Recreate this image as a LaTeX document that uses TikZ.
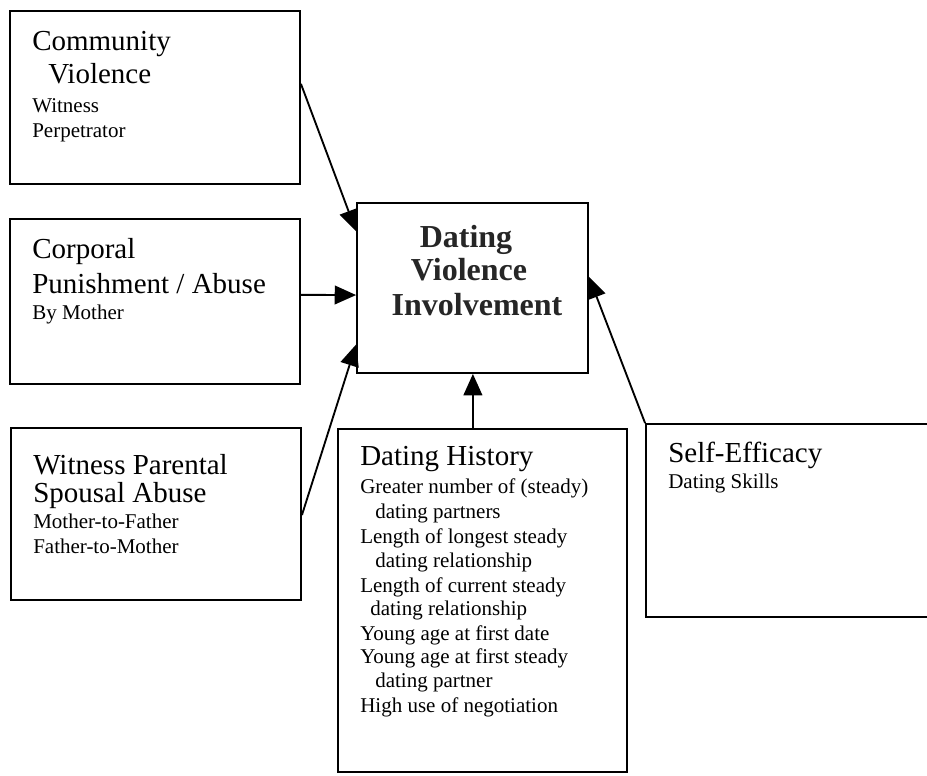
\documentclass[tikz,border=0pt]{standalone}
\usepackage{fontspec}
\setmainfont{Liberation Serif}
\usetikzlibrary{arrows.meta,calc,fit}
\begin{document}
\begin{tikzpicture}[x=0.75pt,y=-0.75pt,
  box/.style={draw, line width=1.4pt, inner sep=0pt},
  head/.style={font=\fontsize{21.75}{25}\selectfont, anchor=base west, inner sep=0pt},
  item/.style={font=\fontsize{15.75}{18}\selectfont, anchor=base west, inner sep=0pt},
  core/.style={font=\bfseries\fontsize{24}{28}\selectfont, anchor=base, inner sep=0pt, text=black!85},
  link/.style={line width=1.4pt, -{Triangle[length=16pt,width=14pt]}}]
\useasboundingbox (0,0) rectangle (927,775);
\fill[white] (0,0) rectangle (927,775);
\clip (0,0) rectangle (927,775);

% boxes
\node[box, fit={(10,11)(300,184)}]   (comm) {};
\node[box, fit={(10,219)(300,384)}]  (corp) {};
\node[box, fit={(11,428)(301,600)}]  (witn) {};
\node[box, fit={(357,203)(588,373)}] (dvi)  {};
\node[box, fit={(338,429)(627,772)}] (hist) {};
\node[box, fit={(646,424)(940,617)}] (self) {};

% community violence
\node[head] (comm1) at (32,50)  {Community};
\node[head] (comm2) at (48,83)  {Violence};
\node[item] (comm3) at (32,112) {Witness};
\node[item] (comm4) at (32,137) {Perpetrator};

% corporal punishment
\node[head] (corp1) at (32,258) {Corporal};
\node[head] (corp2) at (32,293) {Punishment / Abuse};
\node[item] (corp3) at (32,319) {By Mother};

% parental spousal abuse
\node[head] (witn1) at (33,474) {Witness Parental};
\node[head] (witn2) at (33,502) {Spousal Abuse};
\node[item] (witn3) at (33,528) {Mother-to-Father};
\node[item] (witn4) at (33,553) {Father-to-Mother};

% outcome
\node[core] (dvi1) at (466,247) {Dating};
\node[core] (dvi2) at (469,280) {Violence};
\node[core] (dvi3) at (477,315) {Involvement};

% dating history
\node[head] (hist0)  at (360,465) {Dating History};
\node[item] (hist1)  at (360,493) {Greater number of (steady)};
\node[item] (hist2)  at (375,518) {dating partners};
\node[item] (hist3)  at (360,543) {Length of longest steady};
\node[item] (hist4)  at (375,567) {dating relationship};
\node[item] (hist5)  at (360,592) {Length of current steady};
\node[item] (hist6)  at (370,615) {dating relationship};
\node[item] (hist7)  at (360,640) {Young age at first date};
\node[item] (hist8)  at (360,663) {Young age at first steady};
\node[item] (hist9)  at (375,687) {dating partner};
\node[item] (hist10) at (360,712) {High use of negotiation};

% self-efficacy
\node[head] (self1) at (668,462) {Self-Efficacy};
\node[item] (self2) at (668,488) {Dating Skills};

% paths
\draw[link] ($(comm.north east)!0.422!(comm.south east)$) -- ($(dvi.north west)!0.17!(dvi.south west)$);
\draw[link] ($(corp.north east)!0.46!(corp.south east)$) -- ($(dvi.north west)!0.541!(dvi.south west)$);
\draw[link] ($(witn.north east)!0.506!(witn.south east)$) -- ($(dvi.north west)!0.829!(dvi.south west)$);
\coordinate (histtop) at ($(hist.north west)!0.467!(hist.north east)$);
\draw[link] (histtop) -- (histtop |- dvi.south);
\draw[link] (self.north west) -- ($(dvi.north east)!0.435!(dvi.south east)$);
\end{tikzpicture}
\end{document}
